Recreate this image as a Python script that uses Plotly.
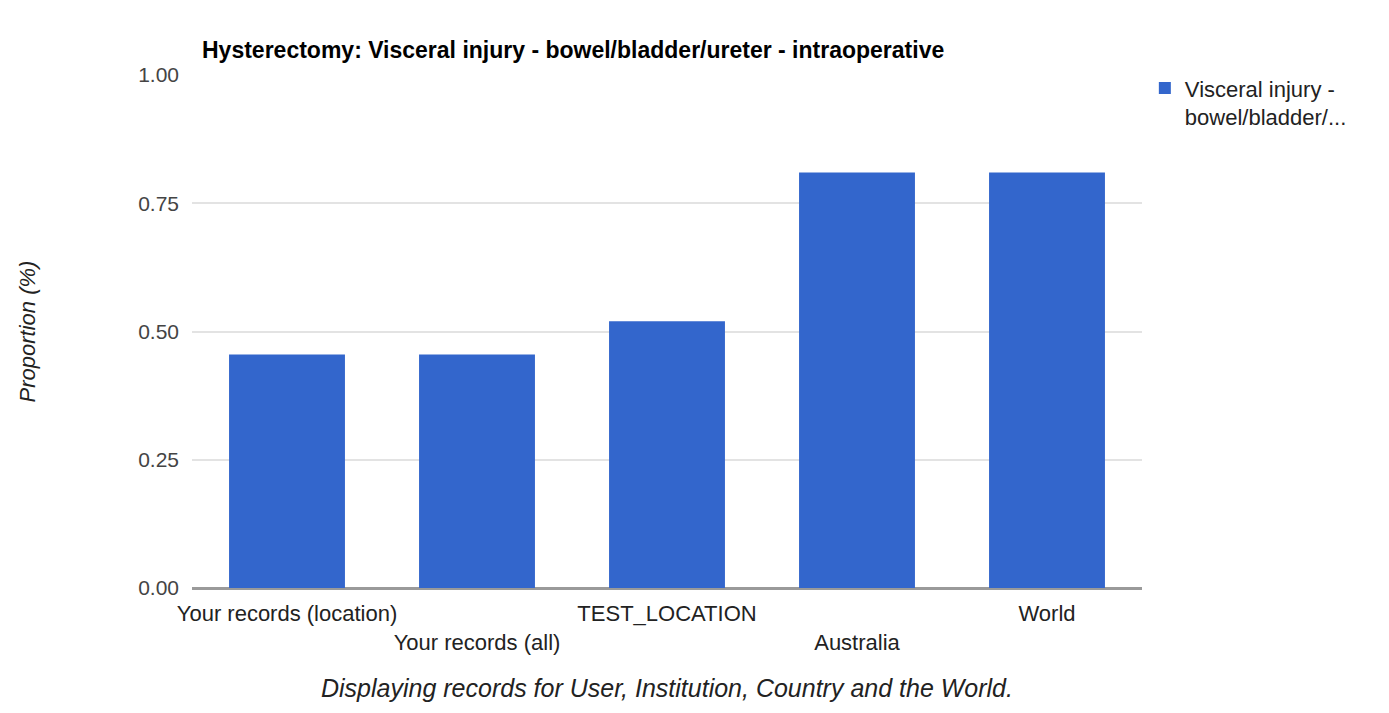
import plotly.graph_objects as go

# Chart data
categories = ["Your records (location)", "Your records (all)", "TEST_LOCATION", "Australia", "World"]
tick_labels = ["Your records (location)", "<br>Your records (all)", "TEST_LOCATION", "<br>Australia", "World"]
proportion = [0.455, 0.455, 0.52, 0.81, 0.81]
y_ticks = [0, 0.25, 0.5, 0.75, 1.0]
y_tick_labels = ["0.00", "0.25", "0.50", "0.75", "1.00"]

series_name = "Visceral injury -<br>bowel/bladder/..."
title_text = "Hysterectomy: Visceral injury - bowel/bladder/ureter - intraoperative"
caption = "Displaying records for User, Institution, Country and the World."

FONT = "Liberation Sans, Arial, sans-serif"
BAR_COLOR = "#3366cc"

fig = go.Figure()
fig.add_trace(go.Bar(
    x=categories,
    y=proportion,
    name=series_name,
    marker=dict(color=BAR_COLOR, line=dict(width=0)),
    showlegend=True,
))

fig.update_layout(
    width=1389,
    height=713,
    margin=dict(l=192, r=247, t=75, b=125),
    paper_bgcolor="white",
    plot_bgcolor="white",
    font=dict(family=FONT, size=21, color="#444444"),
    bargap=0.39,
    title=dict(
        text="<b>" + title_text + "</b>",
        x=202 / 1389,
        xanchor="left",
        y=1 - 50 / 713,
        yanchor="middle",
        font=dict(family=FONT, size=23, color="#000000"),
    ),
    legend=dict(
        x=1.003,
        xanchor="left",
        y=1.015,
        yanchor="top",
        valign="top",
        font=dict(family=FONT, size=22, color="#222222"),
        bgcolor="rgba(0,0,0,0)",
        itemwidth=30,
        traceorder="normal",
    ),
    xaxis=dict(
        tickmode="array",
        tickvals=categories,
        ticktext=tick_labels,
        tickangle=0,
        automargin=False,
        showgrid=False,
        showline=False,
        ticks="",
        ticklabelstandoff=10,
        tickfont=dict(family=FONT, size=22, color="#222222"),
        zeroline=False,
    ),
    yaxis=dict(
        range=[0, 1.0],
        automargin=False,
        tickmode="array",
        tickvals=y_ticks,
        ticktext=y_tick_labels,
        showgrid=True,
        gridcolor="#e3e3e3",
        gridwidth=1.5,
        zeroline=True,
        zerolinecolor="#9a9a9a",
        zerolinewidth=2.5,
        ticks="",
        ticklabelstandoff=12,
        tickfont=dict(family=FONT, size=21, color="#444444"),
        title=dict(
            text="<i>Proportion (%)</i>",
            standoff=96,
            font=dict(family=FONT, size=22, color="#222222"),
        ),
    ),
    annotations=[
        dict(
            text="<i>" + caption + "</i>",
            xref="paper",
            yref="paper",
            x=0.5,
            y=-(688 - 588) / 513,
            xanchor="center",
            yanchor="middle",
            showarrow=False,
            font=dict(family=FONT, size=25, color="#222222"),
        )
    ],
)

fig.write_html("out.html")
